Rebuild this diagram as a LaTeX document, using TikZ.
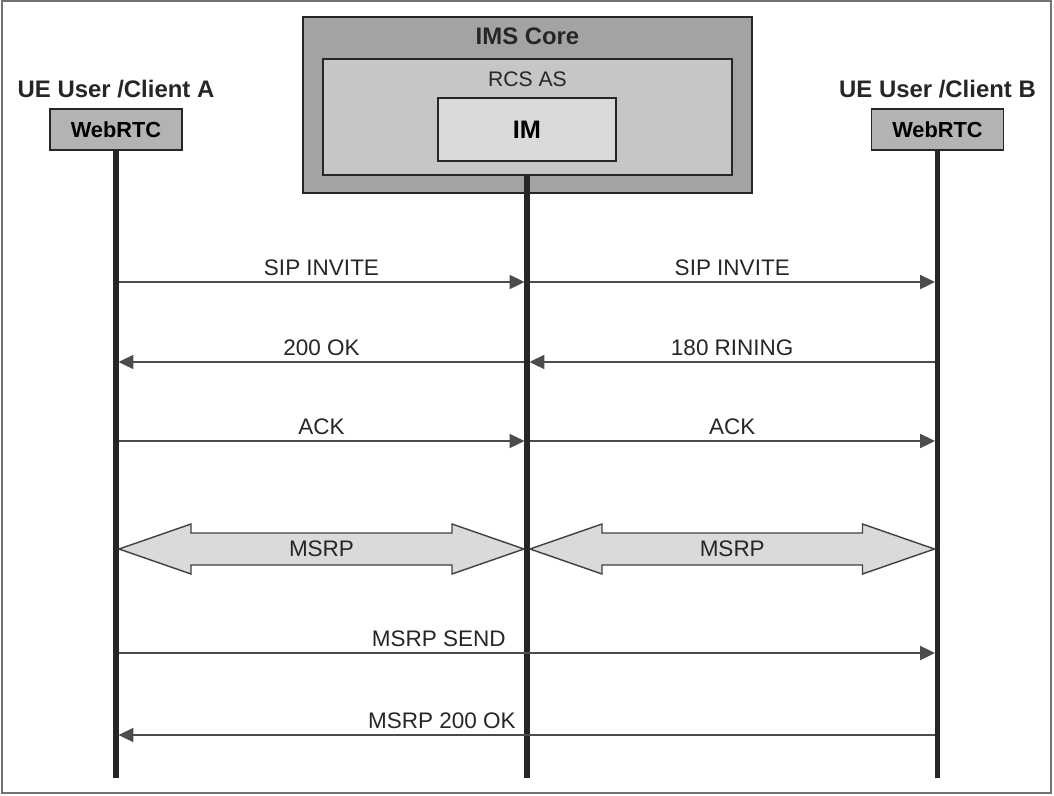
\documentclass[tikz,border=0pt]{standalone}
\usepackage{fontspec}
\setmainfont{Liberation Sans}
\usepackage{xcolor}
\usetikzlibrary{positioning,arrows.meta,calc}

\definecolor{coregray}{HTML}{A3A3A3}
\definecolor{rcsgray}{HTML}{C6C6C6}
\definecolor{imgray}{HTML}{DADADA}
\definecolor{webgray}{HTML}{B3B3B3}
\definecolor{inkgray}{HTML}{262626}

\tikzset{
  box/.style={draw=inkgray, line width=1.3pt, inner sep=0pt},
  life/.style={draw=inkgray, line width=3.6pt},
  msg/.style={draw=black!70, line width=1pt, -{Triangle[length=10.5pt,width=10pt]},
              shorten >=1.8pt, shorten <=1.8pt},
  lbl/.style={inner sep=1pt, font=\fontsize{16}{19}\selectfont, text=inkgray},
  hdr/.style={inner sep=1pt, font=\fontsize{17}{20}\selectfont\bfseries, text=inkgray},
  fat/.style={draw=black!75, line width=1pt, fill=imgray, line join=miter},
}

\begin{document}
\begin{tikzpicture}[x=0.025cm, y=-0.025cm]
    \useasboundingbox (0,0) rectangle (1054,796);
    \draw[black!55, line width=1.5pt] (2,1) rectangle (1051,793);

    % IMS core with RCS AS and IM
    \node[box, fill=coregray, minimum width=11.225cm, minimum height=4.4cm] (ims) at (527.5,105) {};
    \node[box, fill=rcsgray, minimum width=10.225cm, minimum height=2.9cm] (rcs) at (527.5,117) {};
    \node[box, fill=imgray, minimum width=4.45cm, minimum height=1.575cm] (im) at (527,129.5)
        {\fontsize{18}{21}\selectfont\bfseries IM};
    \node[hdr] (imstxt) at ($(ims.north)+(0,20)$) {IMS Core};
    \node[lbl, font=\fontsize{15}{18}\selectfont] (rcstxt) at ($(rcs.north)+(0,21)$) {RCS AS};

    % clients
    \node[box, fill=webgray, minimum width=3.3cm, minimum height=1.025cm] (wA) at (116,129.5)
        {\fontsize{15.5}{18}\selectfont\bfseries WebRTC};
    \node[box, fill=webgray, minimum width=3.3cm, minimum height=1.025cm] (wB) at (937.5,129.5)
        {\fontsize{15.5}{18}\selectfont\bfseries WebRTC};
    \node[hdr] (uA) at ($(wA.north)+(0,-19)$) {UE User /Client A};
    \node[hdr] (uB) at ($(wB.north)+(0,-19)$) {UE User /Client B};

    % lifelines
    \coordinate (bot) at (0,778);
    \draw[life] (wA.south) -- (wA |- bot);
    \draw[life] (rcs.south -| im) -- (im |- bot);
    \draw[life] (wB.south) -- (wB |- bot);

    % message rows
    \coordinate (m1) at (0,282);
    \coordinate (m2) at (0,362);
    \coordinate (m3) at (0,441);
    \coordinate (m4) at (0,549);
    \coordinate (m5) at (0,653);
    \coordinate (m6) at (0,735);

    \draw[msg] (wA |- m1) -- (im |- m1) node[lbl, midway, above=3pt] {SIP INVITE};
    \draw[msg] (im |- m1) -- (wB |- m1) node[lbl, midway, above=3pt] {SIP INVITE};
    \draw[msg] (im |- m2) -- (wA |- m2) node[lbl, midway, above=3pt] {200 OK};
    \draw[msg] (wB |- m2) -- (im |- m2) node[lbl, midway, above=3pt] {180 RINING};
    \draw[msg] (wA |- m3) -- (im |- m3) node[lbl, midway, above=3pt] {ACK};
    \draw[msg] (im |- m3) -- (wB |- m3) node[lbl, midway, above=3pt] {ACK};

    % MSRP sessions
    \foreach \p/\q in {wA/im, im/wB} {
        \coordinate (L) at ($(\p |- m4)+(3,0)$);
        \coordinate (R) at ($(\q |- m4)+(-3,0)$);
        \draw[fat] (L) -- ($(L)+(72,-25)$) -- ($(L)+(72,-16)$) -- ($(R)+(-72,-16)$)
            -- ($(R)+(-72,-25)$) -- (R) -- ($(R)+(-72,25)$) -- ($(R)+(-72,16)$)
            -- ($(L)+(72,16)$) -- ($(L)+(72,25)$) -- cycle;
        \node[lbl] at ($(L)!0.5!(R)$) {MSRP};
    }

    \draw[msg] (wA |- m5) -- (wB |- m5)
        node[lbl, midway, anchor=south east, yshift=3pt, xshift=-13.5pt] {MSRP SEND};
    \draw[msg] (wB |- m6) -- (wA |- m6)
        node[lbl, midway, anchor=south east, yshift=3pt, xshift=-6.4pt] {MSRP 200 OK};
\end{tikzpicture}
\end{document}
